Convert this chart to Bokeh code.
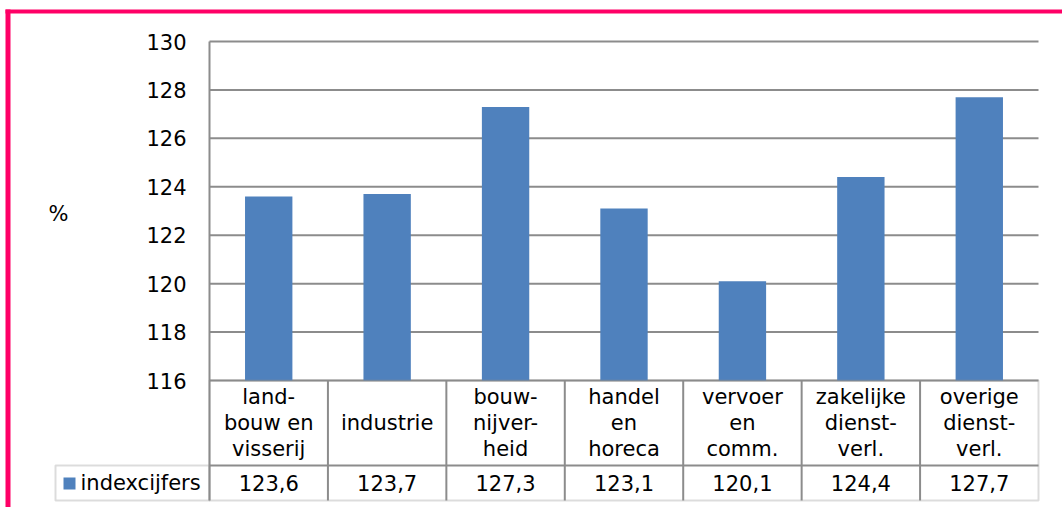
from bokeh.plotting import figure
from bokeh.models import Range1d, BoxAnnotation, Label, FixedTicker, LinearAxis, ColumnDataSource
from bokeh.embed import file_html
from bokeh.resources import INLINE
from bokeh.core.properties import value

# ---- data ----
categories = ["land-\nbouw en\nvisserij", "industrie", "bouw-\nnijver-\nheid",
              "handel\nen\nhoreca", "vervoer\nen\ncomm.", "zakelijke\ndienst-\nverl.",
              "overige\ndienst-\nverl."]
values = [123.6, 123.7, 127.3, 123.1, 120.1, 124.4, 127.7]
value_labels = [f"{v:.1f}".replace(".", ",") for v in values]
y_ticks = [116, 118, 120, 122, 124, 126, 128, 130]
series_name = "indexcijfers"
y_unit = "%"

# ---- layout (screen pixels) ----
W, H = 1062, 507
FL, FR = 209, 1038          # category area left/right
Y0, Y1 = y_ticks[0], y_ticks[-1]
PY0, PY1 = 380, 41          # pixel rows of Y0 and Y1
n = len(categories)
pxu_y = (PY0 - PY1) / (Y1 - Y0)
pxu_x = (FR - FL) / n


def X(px):
    return (px - FL) / pxu_x


def Y(py):
    return Y0 - (py - PY0) / pxu_y


FONT = "DejaVu Sans"
FS = "21px"
GRAY = "#8c8c8c"
BLUE = "#4F81BD"
PINK = "#FF0066"

p = figure(width=W, height=H, x_range=Range1d(X(0), X(W)), y_range=Range1d(Y(H), Y(0)),
           output_backend="svg", toolbar_location=None,
           x_axis_location=None, y_axis_location=None, min_border=0)
p.outline_line_color = None
p.background_fill_color = "white"
p.border_fill_color = "white"
p.xgrid.visible = False
p.ygrid.visible = False

src = ColumnDataSource(dict(x=[i + 0.5 for i in range(n)], cat=categories, val=values,
                            lab=value_labels))

# gridlines
p.segment(x0=[0] * len(y_ticks), y0=y_ticks, x1=[n] * len(y_ticks), y1=y_ticks,
          line_color=GRAY, line_width=2)

# y axis
yaxis = LinearAxis(fixed_location=0, ticker=FixedTicker(ticks=y_ticks), bounds=(Y(500), Y1))
yaxis.axis_line_color = GRAY
yaxis.axis_line_width = 2
yaxis.major_tick_line_color = None
yaxis.minor_tick_line_color = None
yaxis.major_label_standoff = 17
yaxis.major_label_text_font = FONT
yaxis.major_label_text_font_size = FS
yaxis.major_label_text_color = "black"
p.add_layout(yaxis, "left")

# bars
p.vbar(x="x", top="val", bottom=Y0, width=0.4, source=src, fill_color=BLUE, line_color=None)

# data table
p.segment(x0=list(range(1, n)), y0=[Y0] * (n - 1), x1=list(range(1, n)), y1=[Y(500)] * (n - 1),
          line_color=GRAY, line_width=2)
p.segment(x0=[0], y0=[Y(465)], x1=[n], y1=[Y(465)], line_color=GRAY, line_width=2)
p.add_layout(BoxAnnotation(left=0, right=n, top=Y0, bottom=Y(500), fill_alpha=0,
                           line_color=GRAY, line_width=2))
p.add_layout(BoxAnnotation(left=X(55), right=0, top=Y(465), bottom=Y(500), fill_alpha=0,
                           line_color=GRAY, line_width=2))
p.add_layout(BoxAnnotation(left=X(63), right=X(75), top=Y(477), bottom=Y(489),
                           fill_color=BLUE, fill_alpha=1, line_color=None))
p.add_layout(Label(x=X(80), y=Y(482.5), text=series_name, text_font=FONT,
                   text_font_size=FS, text_baseline="middle", text_align="left",
                   text_color="black"))

p.text(x="x", y=Y(422.5), text="cat", source=src, text_font=value(FONT),
       text_font_size=FS, text_align="center", text_baseline="middle",
       text_line_height=1.1, text_color="black")
p.text(x="x", y=Y(482.5), text="lab", source=src, text_font=value(FONT),
       text_font_size=FS, text_align="center", text_baseline="middle", text_color="black")

# unit label
p.add_layout(Label(x=X(58), y=Y(213), text=y_unit, text_font=FONT, text_font_size=FS,
                   text_baseline="middle", text_align="center", text_color="black"))

# magenta frame
p.add_layout(BoxAnnotation(left=X(5), right=X(W + 5), top=Y(9), bottom=Y(13),
                           fill_color=PINK, fill_alpha=1, line_color=None))
p.add_layout(BoxAnnotation(left=X(5), right=X(10), top=Y(9), bottom=Y(H + 5),
                           fill_color=PINK, fill_alpha=1, line_color=None))

open("out.html", "w").write(file_html(p, INLINE))
